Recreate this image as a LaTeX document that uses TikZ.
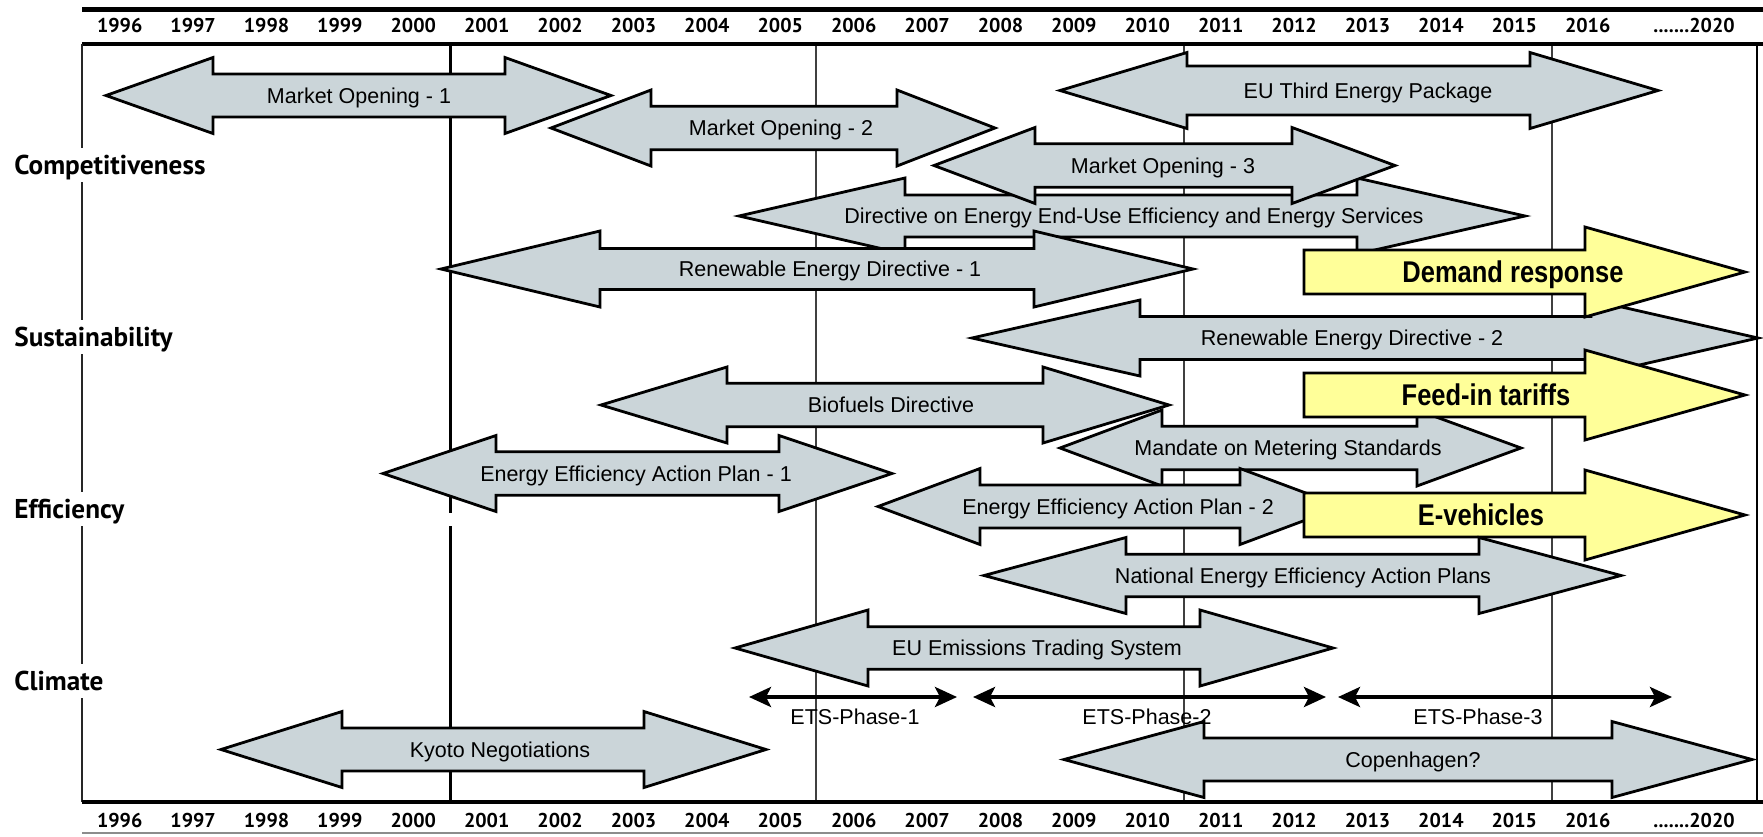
\documentclass[tikz,border=0pt]{standalone}
\usepackage{fontspec}
\setmainfont{Liberation Sans}
\newfontfamily\lblfont{Liberation Sans}
\newfontfamily\ylwfont{Liberation Sans}[FakeStretch=0.85]
\newfontfamily\hdfont{PT Sans}
\usetikzlibrary{arrows.meta}
\definecolor{arrowgray}{RGB}{203,213,217}
\definecolor{arrowyellow}{RGB}{255,255,153}
\tikzset{
  garrowshape/.style={draw=black, fill=arrowgray, line width=1.4pt, line join=miter},
  yarrowshape/.style={draw=black, fill=arrowyellow, line width=1.4pt, line join=miter},
  glabel/.style={anchor=base, inner sep=0pt, font=\lblfont\fontsize{10.75pt}{12pt}\selectfont},
  yellowlabel/.style={anchor=base, inner sep=0pt, font=\ylwfont\bfseries\fontsize{15pt}{17pt}\selectfont},
  yearlabel/.style={anchor=base, inner sep=0pt, font=\hdfont\bfseries\fontsize{10pt}{12pt}\selectfont},
  catlabel/.style={anchor=base west, fill=white, inner xsep=0pt, inner ysep=1.5pt, text height=11.5pt, text depth=2.5pt, font=\hdfont\bfseries\fontsize{13.6pt}{15pt}\selectfont},
  gridthick/.style={line width=1.5pt, black},
  gridthin/.style={line width=0.85pt, black!75},
  phasearrow/.style={line width=1.9pt, {Stealth[length=11pt,width=10pt,inset=2.5pt]}-{Stealth[length=11pt,width=10pt,inset=2.5pt]}},
  phaselabel/.style={anchor=base, inner sep=0pt, font=\lblfont\fontsize{10.75pt}{12pt}\selectfont},
}
% #1 name, #2 left tip, #3 left head base, #4 right head base, #5 right tip, #6 centre y, #7 shaft half height, #8 text x, #9 text
\newcommand\garrow[9]{%
  \draw[garrowshape] (#2,#6) -- (#3,#6-38) -- (#3,#6-#7) -- (#4,#6-#7) -- (#4,#6-38) -- (#5,#6)
    -- (#4,#6+38) -- (#4,#6+#7) -- (#3,#6+#7) -- (#3,#6+38) -- cycle;
  \node[glabel] (#1) at (#8,#6+7.7) {#9};
}
% #1 name, #2 left end, #3 head base, #4 tip, #5 centre y, #6 text x, #7 text
\newcommand\yarrow[7]{%
  \draw[yarrowshape] (#2,#5-22) -- (#3,#5-22) -- (#3,#5-45) -- (#4,#5) -- (#3,#5+45) -- (#3,#5+22) -- (#2,#5+22) -- cycle;
  \node[yellowlabel] (#1) at (#6,#5+10.7) {#7};
}
\begin{document}
\begin{tikzpicture}[x=0.5pt,y=-0.5pt]
\useasboundingbox (0,0) rectangle (1763,836);
% grid lines
\draw[gridthick] (450,44) -- (450,513);
\draw[gridthick] (450,526) -- (450,802);
\draw[gridthin] (816,44) -- (816,802);
\draw[gridthin] (1184,44) -- (1184,802);
\draw[gridthin] (1552,44) -- (1552,802);
% frame
\draw[line width=2.2pt] (82,9.5) -- (1763,9.5);
\draw[line width=1.6pt] (82,44) -- (1763,44);
\draw[line width=1.1pt, black!85] (82,44) -- (82,802);
\draw[line width=1pt] (1757,44) -- (1757,802);
\draw[line width=1.6pt] (82,802) -- (1763,802);
\draw[line width=0.9pt, black!45] (82,833) -- (1763,833);
% years
\foreach \i in {0,...,20} {
  \pgfmathtruncatemacro\yr{1996+\i}
  \node[yearlabel] (yt\yr) at ({119.7+73.4*\i},32.7) {\yr};
  \node[yearlabel] (yb\yr) at ({119.7+73.4*\i},827) {\yr};
}
\node[yearlabel] (yt2020) at (1694,32.7) {.......2020};
\node[yearlabel] (yb2020) at (1694,827) {.......2020};
% categories
\node[catlabel] (comp) at (14,174) {Competitiveness};
\node[catlabel] (sust) at (14,346) {Sustainability};
\node[catlabel] (effi) at (14,518) {Efficiency};
\node[catlabel] (clim) at (14,690) {Climate};
% arrows
\garrow{mo1}{106}{213}{505}{611}{95.5}{21.5}{359}{Market Opening - 1}
\garrow{mo2}{551}{651}{897}{995}{128}{21.8}{781}{Market Opening - 2}
\garrow{eutep}{1060}{1187}{1530}{1658}{90.5}{24.5}{1368}{EU Third Energy Package}
\garrow{deeu}{739}{905}{1357}{1525}{216}{21}{1134}{Directive on Energy End-Use Efficiency and Energy Services}
\garrow{mo3}{934}{1035}{1292}{1395}{165.5}{21.7}{1163}{Market Opening - 3}
\garrow{red1}{441}{600}{1034}{1193}{269}{20.5}{830}{Renewable Energy Directive - 1}
\garrow{red2}{972}{1140}{1591}{1758}{338}{21.5}{1352}{Renewable Energy Directive - 2}
\yarrow{dr}{1304}{1585}{1745}{272}{1513}{Demand response}
\garrow{bio}{601}{727}{1043}{1169}{405}{21.8}{891}{Biofuels Directive}
\garrow{mms}{1060}{1162}{1417}{1521}{448}{21.7}{1288}{Mandate on Metering Standards}
\yarrow{fit}{1304}{1585}{1745}{395}{1486}{Feed-in tariffs}
\garrow{eeap1}{383}{496}{779}{892}{473.5}{21.7}{636}{Energy Efficiency Action Plan - 1}
\garrow{eeap2}{878}{980}{1240}{1342}{506.5}{21.5}{1118}{Energy Efficiency Action Plan - 2}
\yarrow{ev}{1304}{1585}{1745}{515}{1481}{E-vehicles}
\garrow{neeap}{984}{1126}{1479}{1621}{575.5}{21.3}{1303}{National Energy Efficiency Action Plans}
\garrow{ets}{735}{868}{1200}{1333}{648}{21.2}{1037}{EU Emissions Trading System}
\garrow{kyoto}{221}{342}{644}{766}{749.5}{21.5}{500}{Kyoto Negotiations}
\garrow{copen}{1064}{1204}{1612}{1752}{759.5}{21.5}{1413}{Copenhagen?}
% ETS phases
\coordinate (p1a) at (749,697); \coordinate (p1b) at (957,697);
\coordinate (p2a) at (973,697); \coordinate (p2b) at (1326,697);
\coordinate (p3a) at (1338,697); \coordinate (p3b) at (1672,697);
\draw[phasearrow] (p1a) -- (p1b);
\draw[phasearrow] (p2a) -- (p2b);
\draw[phasearrow] (p3a) -- (p3b);
\node[phaselabel] (ph1) at (855,724) {ETS-Phase-1};
\node[phaselabel] (ph2) at (1147,724) {ETS-Phase-2};
\node[phaselabel] (ph3) at (1478,724) {ETS-Phase-3};
\end{tikzpicture}
\end{document}
